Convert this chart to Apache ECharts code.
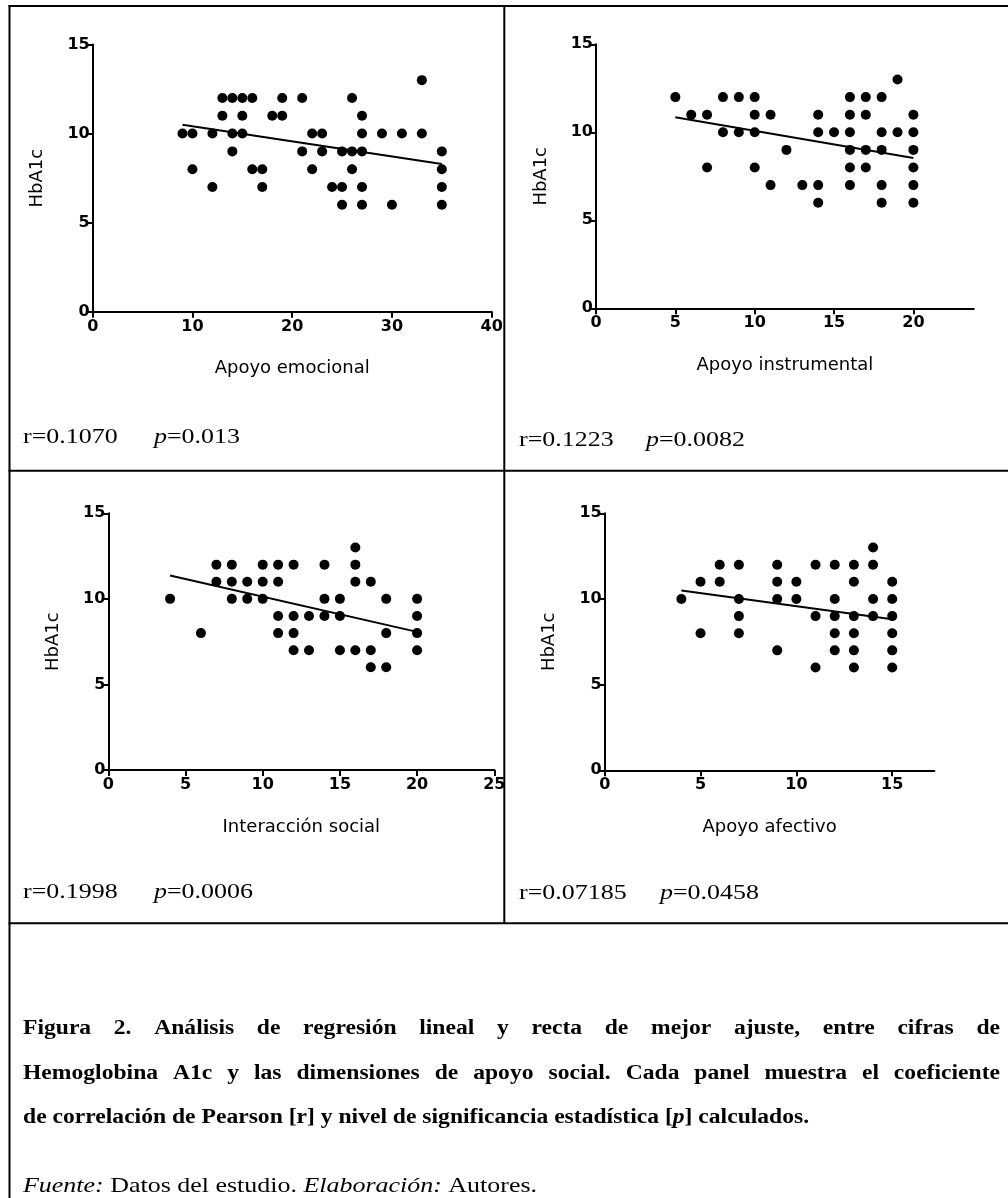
<!DOCTYPE html>
<html><head><meta charset="utf-8">
<script src="https://cdn.jsdelivr.net/npm/echarts@6/dist/echarts.min.js"></script>
<style>html,body{margin:0;padding:0;background:#fff}#c{width:1008px;height:1198px}</style>
</head><body><div id="c"></div>
<script>
// ---- Data ----
const emoX = [33, 13,14,15,16,19,21,26, 13,15,18,19,27, 9,10,12,14,15,22,23,27,29,31,33, 14,21,23,25,26,27,35, 10,16,17,22,26,35, 12,17,24,25,27,35, 25,27,30,35];
const emoY = [13, 12,12,12,12,12,12,12, 11,11,11,11,11, 10,10,10,10,10,10,10,10,10,10,10, 9,9,9,9,9,9,9, 8,8,8,8,8,8, 7,7,7,7,7,7, 6,6,6,6];
const insX = [19, 5,8,9,10,16,17,18, 6,7,10,11,14,16,17,20, 8,9,10,14,15,16,18,19,20, 12,16,17,18,20, 7,10,16,17,20, 11,13,14,16,18,20, 14,18,20];
const insY = [13, 12,12,12,12,12,12,12, 11,11,11,11,11,11,11,11, 10,10,10,10,10,10,10,10,10, 9,9,9,9,9, 8,8,8,8,8, 7,7,7,7,7,7, 6,6,6];
const socX = [16, 7,8,10,11,12,14,16, 7,8,9,10,11,16,17, 4,8,9,10,14,15,18,20, 11,12,13,14,15,20, 6,11,12,18,20, 12,13,15,16,17,20, 17,18];
const socY = [13, 12,12,12,12,12,12,12, 11,11,11,11,11,11,11, 10,10,10,10,10,10,10,10, 9,9,9,9,9,9, 8,8,8,8,8, 7,7,7,7,7,7, 6,6];
const afeX = [14, 6,7,9,11,12,13,14, 5,6,9,10,13,15, 4,7,9,10,12,14,15, 7,11,12,13,14,15, 5,7,12,13,15, 9,12,13,15, 11,13,15];
const afeY = [13, 12,12,12,12,12,12,12, 11,11,11,11,11,11, 10,10,10,10,10,10,10, 9,9,9,9,9,9, 8,8,8,8,8, 7,7,7,7, 6,6,6];
// regression line endpoints [x, y]
const emoFit = [[9, 10.49], [35, 8.29]];
const insFit = [[5, 10.85], [20, 8.54]];
const socFit = [[4, 11.36], [20, 8.07]];
const afeFit = [[4, 10.49], [15, 8.81]];
// axis texts and ticks
const xNames = ['Apoyo emocional', 'Apoyo instrumental', 'Interacción social', 'Apoyo afectivo'];
const yName = 'HbA1c';
const xMax = [40, 23.8, 25, 17.2];
const xTicks = [[0,10,20,30,40],[0,5,10,15,20],[0,5,10,15,20,25],[0,5,10,15]];
const yTicks = [0, 5, 10, 15];
const stats = [['r=0.1070', '0.013'], ['r=0.1223', '0.0082'], ['r=0.1998', '0.0006'], ['r=0.07185', '0.0458']];
const captionLines = [
  'Figura 2. Análisis de regresión lineal y recta de mejor ajuste, entre cifras de',
  'Hemoglobina A1c y las dimensiones de apoyo social. Cada panel muestra el coeficiente'
];
const captionLine3 = ['de correlación de Pearson [r] y nivel de significancia estadística [', 'p', '] calculados.'];
const sourceLine = ['Fuente:', ' Datos del estudio. ', 'Elaboración:', ' Autores.'];

// ---- Layout ----
const grids = [
  {left: 92.7, top: 44.5, width: 399, height: 267.2},
  {left: 596, top: 44.3, width: 377.7, height: 264},
  {left: 108.3, top: 513.3, width: 386, height: 256.7},
  {left: 604.7, top: 513.3, width: 329.7, height: 257}
];
const sans = 'DejaVu Sans';
const serif = 'Liberation Serif';
const SX = 1.18; // horizontal stretch of serif texts

function pairs(xs, ys) { return xs.map((x, i) => [x, ys[i]]); }
const pts = [pairs(emoX, emoY), pairs(insX, insY), pairs(socX, socY), pairs(afeX, afeY)];
const fits = [emoFit, insFit, socFit, afeFit];

const xAxes = [], yAxes = [], series = [];
for (let i = 0; i < 4; i++) {
  xAxes.push({
    type: 'value', gridIndex: i, min: 0, max: xMax[i],
    name: xNames[i], nameLocation: 'middle', nameGap: 48,
    nameTextStyle: {fontFamily: sans, fontSize: 18, color: '#000'},
    axisLine: {show: true, onZero: false, lineStyle: {color: '#000', width: 2}},
    axisTick: {show: true, length: 6, lineStyle: {color: '#000', width: 2}, customValues: xTicks[i]},
    axisLabel: {fontFamily: sans, fontWeight: 'bold', fontSize: 16, color: '#000', margin: 7, customValues: xTicks[i]},
    splitLine: {show: false}
  });
  yAxes.push({
    type: 'value', gridIndex: i, min: 0, max: 15, interval: 5,
    name: yName, nameLocation: 'middle', nameGap: 46, nameRotate: 90,
    nameTextStyle: {fontFamily: sans, fontSize: 18, color: '#000'},
    axisLine: {show: true, onZero: false, lineStyle: {color: '#000', width: 2}},
    axisTick: {show: true, length: 6, lineStyle: {color: '#000', width: 2}, customValues: yTicks},
    axisLabel: {fontFamily: sans, fontWeight: 'bold', fontSize: 16, color: '#000', margin: 3, customValues: yTicks},
    splitLine: {show: false}
  });
  series.push({
    type: 'scatter', xAxisIndex: i, yAxisIndex: i, data: pts[i],
    symbol: 'circle', symbolSize: 10, itemStyle: {color: '#000', opacity: 1}, silent: true, z: 3
  });
  series.push({
    type: 'line', xAxisIndex: i, yAxisIndex: i, data: fits[i],
    symbol: 'none', lineStyle: {color: '#000', width: 2, opacity: 1}, silent: true, z: 4
  });
}

// ---- Text measuring for justified caption ----
const mctx = document.createElement('canvas').getContext('2d');
function measure(txt, font) { mctx.font = font; return mctx.measureText(txt).width; }

const graphics = [];
const border = {stroke: '#000', lineWidth: 2};
function hline(x1, x2, y) { graphics.push({type: 'line', shape: {x1, y1: y, x2, y2: y}, style: border, silent: true}); }
function vline(x, y1, y2) { graphics.push({type: 'line', shape: {x1: x, y1, x2: x, y2}, style: border, silent: true}); }
hline(8.5, 1008, 6);
vline(9.5, 5, 1198);
vline(504.3, 5, 924);
hline(8.5, 1008, 470.7);
hline(8.5, 1008, 923.3);

// r / p stats
const statPos = [[23, 437, 154], [519, 440, 646], [23, 892, 154], [519, 893, 660]];
for (let i = 0; i < 4; i++) {
  const [x, y, px] = statPos[i];
  graphics.push({type: 'text', x, y, scaleX: SX, silent: true,
    style: {text: stats[i][0], fontFamily: serif, fontSize: 22, fill: '#000', verticalAlign: 'middle'}});
  graphics.push({type: 'text', x: px, y, scaleX: SX, silent: true,
    style: {text: '{i|p}=' + stats[i][1], fontFamily: serif, fontSize: 22, fill: '#000', verticalAlign: 'middle',
      rich: {i: {fontStyle: 'italic', fontFamily: serif, fontSize: 22}}}});
}

// caption (bold, justified lines 1-2)
const capFont = 'bold 20px "Liberation Serif"';
const capLeft = 23, capRight = 1000;
const capY = [1029, 1074, 1118];
captionLines.forEach((line, li) => {
  const words = line.split(' ');
  const widths = words.map(w => measure(w, capFont) * SX);
  const total = widths.reduce((a, b) => a + b, 0);
  const gap = (capRight - capLeft - total) / (words.length - 1);
  let x = capLeft;
  words.forEach((w, k) => {
    graphics.push({type: 'text', x, y: capY[li], scaleX: SX, silent: true,
      style: {text: w, fontFamily: serif, fontWeight: 'bold', fontSize: 20, fill: '#000', verticalAlign: 'middle'}});
    x += widths[k] + gap;
  });
});
graphics.push({type: 'text', x: capLeft, y: capY[2], scaleX: SX, silent: true,
  style: {text: captionLine3[0] + '{bi|' + captionLine3[1] + '}' + captionLine3[2],
    fontFamily: serif, fontWeight: 'bold', fontSize: 20, fill: '#000', verticalAlign: 'middle',
    rich: {bi: {fontFamily: serif, fontWeight: 'bold', fontStyle: 'italic', fontSize: 20}}}});
graphics.push({type: 'text', x: capLeft, y: 1186, scaleX: SX, silent: true,
  style: {text: '{i|' + sourceLine[0] + '}' + sourceLine[1] + '{i|' + sourceLine[2] + '}' + sourceLine[3],
    fontFamily: serif, fontSize: 22, fill: '#000', verticalAlign: 'middle',
    rich: {i: {fontFamily: serif, fontStyle: 'italic', fontSize: 22}}}});

const chart = echarts.init(document.getElementById('c'), null, {renderer: 'canvas'});
chart.setOption({
  animation: false,
  backgroundColor: '#fff',
  grid: grids.map(g => Object.assign({containLabel: false}, g)),
  xAxis: xAxes, yAxis: yAxes, series: series,
  graphic: graphics
});
</script></body></html>
